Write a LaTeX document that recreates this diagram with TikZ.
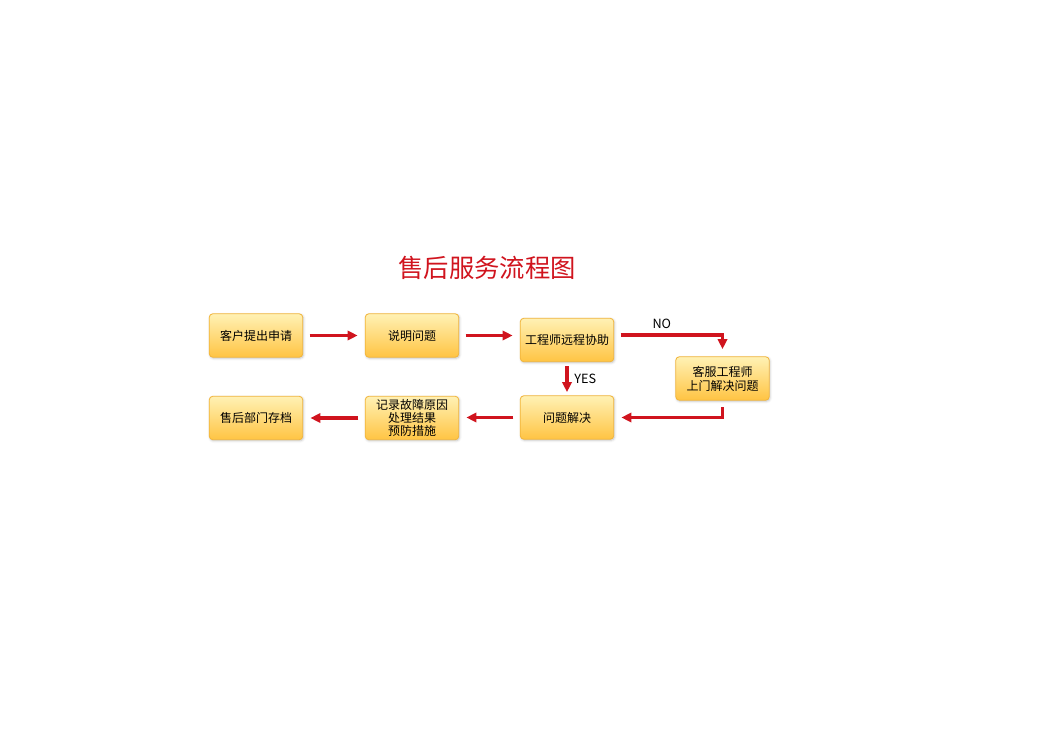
\documentclass[tikz,border=0pt]{standalone}
\usepackage{fontspec}
\usepackage{xcolor}
\usepackage{tikz}
\usetikzlibrary{arrows.meta,positioning,shadows.blur}
\newfontfamily\cjk{Noto Sans CJK SC}
\definecolor{flowred}{HTML}{D0141E}
\definecolor{boxtop}{HTML}{FFF1B4}
\definecolor{boxbot}{HTML}{FFC443}
\definecolor{boxline}{HTML}{F2B53A}

\begin{document}
\begin{tikzpicture}[
  x=0.75pt,y=-0.75pt,
  box/.style={draw=boxline,semithick,rounded corners=2.5pt,minimum width=70pt,
              minimum height=32.5pt,align=center,top color=boxtop,bottom color=boxbot,
              font=\cjk\fontsize{9}{10.5}\selectfont,inner sep=2pt,
              blur shadow={shadow xshift=0.6pt,shadow yshift=-0.8pt,shadow blur steps=4,shadow opacity=25}},
  flow/.style={-{Triangle[length=7.5pt,width=7pt]},line width=2.3pt,flowred,
               shorten <=5pt,shorten >=5.5pt},
  lbl/.style={font=\cjk\fontsize{9.5}{11}\selectfont,text=black}
]
\useasboundingbox (0,0) rectangle (1050,732);
\node[font=\cjk\fontsize{19}{22}\selectfont,text=flowred] (title) at (487,268) {售后服务流程图};

\node[box] (req) at (256,335.5) {客户提出申请};
\node[box] (explain) at (412,335.5) {说明问题};
\node[box] (remote) at (567,340) {工程师远程协助};
\node[box] (onsite) at (722.5,378.5) {客服工程师\\上门解决问题};
\node[box] (solved) at (567,417.5) {问题解决};
\node[box,font=\cjk\fontsize{9}{9.6}\selectfont] (record) at (412,418) {记录故障原因\\处理结果\\预防措施};
\node[box] (archive) at (256,418) {售后部门存档};

\draw[flow] (req) -- (explain);
\draw[flow] (explain) -- (explain -| remote.west);
\draw[flow] ([yshift=3.75pt]remote.east) -| node[lbl,above,pos=0.22]{NO} (onsite.north);
\draw[flow,shorten <=3pt,shorten >=2.5pt] (remote) -- node[lbl,right,xshift=1pt]{YES} (solved);
\draw[flow] (onsite.south) |- (solved.east);
\draw[flow] (solved) -- (solved -| record.east);
\draw[flow] (record) -- (archive);
\end{tikzpicture}
\end{document}
